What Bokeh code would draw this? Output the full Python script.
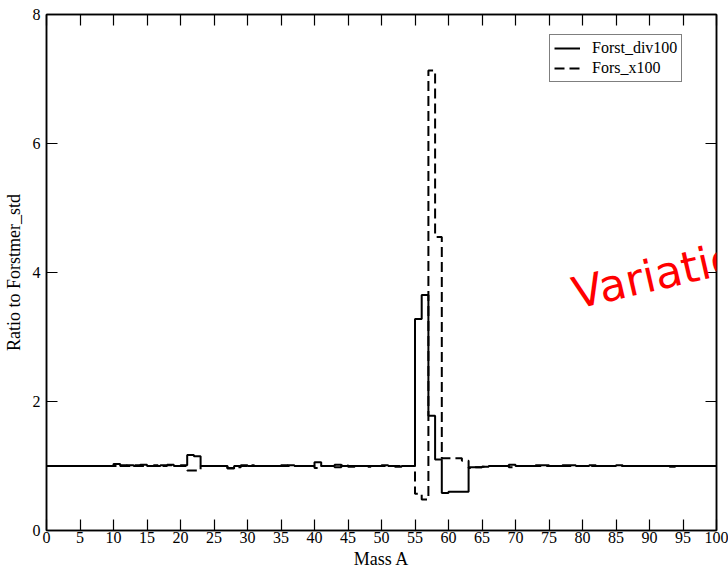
from bokeh.plotting import figure
from bokeh.models import Range1d, LinearAxis, Label, Legend, LegendItem, CustomJSTickFormatter
from bokeh.embed import file_html
from bokeh.resources import INLINE

# bin edges (Mass A) and per-bin ratios
mass_edges = list(range(0, 101))
forst_div100 = [
    1.00, 1.00, 1.00, 1.00, 1.00, 1.00, 1.00, 1.00, 1.00, 1.00,
    1.03, 1.00, 1.01, 1.00, 1.02, 1.00, 1.00, 1.01, 1.02, 1.00,
    1.01, 1.17, 1.15, 1.00, 1.00, 1.00, 1.00, 0.97, 1.00, 1.01,
    1.00, 1.00, 1.00, 1.00, 1.00, 1.00, 1.01, 1.00, 1.00, 1.00,
    1.06, 1.00, 1.00, 1.02, 1.00, 0.99, 1.00, 1.00, 1.00, 1.00,
    1.01, 1.00, 0.99, 1.00, 1.00, 3.28, 3.65, 1.78, 1.10, 0.58,
    0.60, 0.60, 0.60, 0.98, 0.98, 0.99, 1.00, 1.00, 1.00, 1.02,
    1.00, 1.00, 1.00, 1.01, 1.01, 1.00, 1.00, 1.01, 1.01, 1.00,
    1.00, 1.01, 1.00, 1.00, 1.00, 1.01, 1.00, 1.00, 1.00, 1.00,
    1.00, 1.00, 1.00, 1.00, 1.00, 1.00, 1.00, 1.00, 1.00, 1.00,
]
fors_x100 = [
    1.00, 1.00, 1.00, 1.00, 1.00, 1.00, 1.00, 1.00, 1.00, 1.00,
    1.00, 1.01, 1.00, 1.01, 1.00, 1.00, 1.01, 1.00, 1.01, 1.00,
    1.00, 0.93, 0.93, 1.00, 1.00, 1.00, 1.00, 0.96, 0.98, 1.00,
    1.01, 1.00, 1.00, 1.00, 1.00, 1.01, 1.00, 1.00, 1.00, 1.00,
    0.97, 1.00, 1.00, 0.98, 1.01, 1.00, 1.00, 1.00, 0.99, 1.00,
    1.00, 1.00, 1.00, 1.00, 1.00, 0.57, 0.48, 7.13, 4.55, 1.12,
    1.12, 1.12, 1.08, 0.97, 0.98, 0.99, 1.00, 1.00, 1.00, 0.98,
    1.00, 1.00, 1.00, 1.00, 1.00, 1.00, 1.00, 1.00, 1.00, 1.00,
    1.00, 1.00, 1.00, 1.00, 1.00, 1.00, 1.00, 1.00, 1.00, 1.00,
    1.00, 1.00, 1.00, 0.99, 1.00, 1.00, 1.00, 1.00, 1.00, 1.00,
]
x_ticks = list(range(0, 101, 5))
y_ticks = [0, 2, 4, 6, 8]

SERIF = "Liberation Serif"

p = figure(width=728, height=573, output_backend="svg", toolbar_location=None,
           x_range=Range1d(0, 100), y_range=Range1d(0, 8),
           min_border_left=46, min_border_right=12, min_border_top=14, min_border_bottom=43)
p.grid.visible = False
p.outline_line_color = "black"
p.outline_line_width = 1.5
p.background_fill_color = "white"
p.border_fill_color = "white"

def style_axis(ax, labels=True):
    ax.axis_line_color = "black"
    ax.axis_line_width = 1.5
    ax.major_tick_in = 11
    ax.major_tick_out = 0
    ax.minor_tick_in = 5
    ax.minor_tick_out = 0
    ax.major_tick_line_color = "black"
    ax.minor_tick_line_color = "black"
    ax.major_tick_line_width = 1.2
    ax.minor_tick_line_width = 1.2
    if labels:
        ax.major_label_text_font = SERIF
        ax.major_label_text_font_size = "16px"
        ax.major_label_text_color = "black"
        ax.axis_label_text_font = SERIF
        ax.axis_label_text_font_size = "18px"
        ax.axis_label_text_font_style = "normal"
        ax.axis_label_text_color = "black"
    else:
        ax.major_label_text_font_size = "0px"
        ax.formatter = CustomJSTickFormatter(code="return ''")

xa = p.xaxis[0]
xa.ticker = x_ticks
xa.ticker.num_minor_ticks = 5
style_axis(xa)
xa.axis_label = "Mass A"
xa.major_label_standoff = 1
xa.axis_label_standoff = 3

ya = p.yaxis[0]
ya.ticker = y_ticks
ya.ticker.num_minor_ticks = 2
style_axis(ya)
ya.axis_label = "Ratio to Forstmer_std"
ya.major_label_standoff = 6
ya.axis_label_standoff = 6

top = LinearAxis(ticker=x_ticks)
top.ticker.num_minor_ticks = 5
style_axis(top, labels=False)
p.add_layout(top, "above")

right = LinearAxis(ticker=y_ticks)
right.ticker.num_minor_ticks = 2
style_axis(right, labels=False)
p.add_layout(right, "right")

xs = mass_edges
y_dash = fors_x100 + [fors_x100[-1]]
y_solid = forst_div100 + [forst_div100[-1]]

r_dash = p.step(xs, y_dash, mode="after", line_color="black", line_width=2, line_dash="10 5")
r_solid = p.step(xs, y_solid, mode="after", line_color="black", line_width=2)

legend = Legend(items=[LegendItem(label="Forst_div100", renderers=[r_solid]),
                       LegendItem(label="Fors_x100", renderers=[r_dash])],
                location=(503, 448))
legend.label_text_font = SERIF
legend.label_text_font_size = "16px"
legend.label_text_color = "black"
legend.glyph_width = 26
legend.glyph_height = 16
legend.label_height = 17
legend.label_standoff = 12
legend.padding = 4
legend.spacing = 2
legend.margin = 0
legend.border_line_color = "black"
legend.border_line_width = 1.2
legend.background_fill_alpha = 1
p.add_layout(legend, "center")

note = Label(x=78.6, y=3.67, text="Variation", angle=13, angle_units="deg",
             text_color="red", text_font="DejaVu Sans", text_font_size="44px",
             text_align="left", text_baseline="alphabetic")
p.add_layout(note)

open("out.html", "w").write(file_html(p, INLINE))
